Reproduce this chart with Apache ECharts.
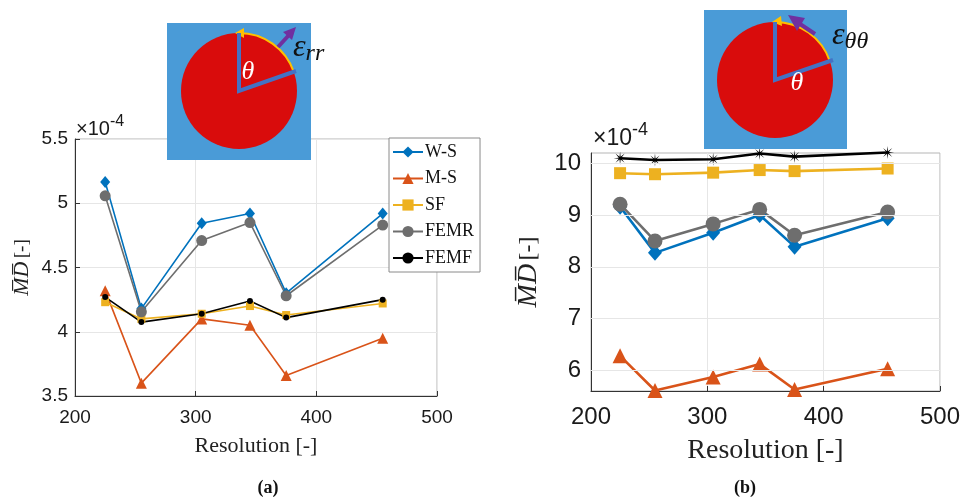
<!DOCTYPE html>
<html><head><meta charset="utf-8">
<script src="https://cdn.jsdelivr.net/npm/echarts@6/dist/echarts.min.js"></script>
<style>html,body{margin:0;padding:0;background:#fff}#c{width:963px;height:500px}</style>
</head><body><div id="c"></div>
<script>
// ---- data (values in units of 1e-4) ----
const resolution = [225, 255, 305, 345, 375, 455];
const seriesNames = ['W-S', 'M-S', 'SF', 'FEMR', 'FEMF'];
const rrWS   = [5.165, 4.18, 4.845, 4.92, 4.30, 4.92];
const rrMS   = [4.32, 3.60, 4.10, 4.05, 3.66, 3.95];
const rrSF   = [4.23, 4.10, 4.14, 4.20, 4.13, 4.22];
const rrFEMR = [5.058, 4.155, 4.71, 4.85, 4.28, 4.83];
const rrFEMF = [4.27, 4.075, 4.14, 4.24, 4.11, 4.25];
const ttWS   = [9.16, 8.27, 8.66, 9.00, 8.39, 8.94];
const ttMS   = [6.28, 5.61, 5.87, 6.12, 5.63, 6.03];
const ttSF   = [9.81, 9.79, 9.82, 9.87, 9.85, 9.90];
const ttFEMR = [9.21, 8.50, 8.83, 9.11, 8.61, 9.06];
const ttFEMF = [10.10, 10.065, 10.08, 10.19, 10.13, 10.21];
const xTicks  = [200, 300, 400, 500];
const yTicksA = [3.5, 4, 4.5, 5, 5.5];
const yTicksB = [6, 7, 8, 9, 10];
const xTitle = 'Resolution [-]';
const yTitleMD = 'M\u0305D\u0305';
const panelLabels = ['(a)', '(b)'];

function asteriskPath() {
  const p = [];
  for (let k = 0; k < 16; k++) {
    const a = k * Math.PI / 8 - Math.PI / 2;
    const r = k % 2 ? 0.22 : 1;
    p.push((k ? 'L' : 'M') + (r * Math.cos(a)).toFixed(3) + ' ' + (r * Math.sin(a)).toFixed(3));
  }
  return 'path://' + p.join(' ') + 'Z';
}
const styles = {
  'W-S':  {color: '#0072BD', symA: 'diamond', symB: 'diamond', sA: [10, 12], sB: [14, 16]},
  'M-S':  {color: '#D95319', symA: 'triangle', symB: 'triangle', sA: 11, sB: 15},
  'SF':   {color: '#EDB120', symA: 'rect', symB: 'rect', sA: 8, sB: 12},
  'FEMR': {color: '#6E6E6E', symA: 'circle', symB: 'circle', sA: 11, sB: 15},
  'FEMF': {color: '#000000', symA: 'circle', symB: asteriskPath(), sA: 6, sB: 13}
};
const dataA = {'W-S': rrWS, 'M-S': rrMS, 'SF': rrSF, 'FEMR': rrFEMR, 'FEMF': rrFEMF};
const dataB = {'W-S': ttWS, 'M-S': ttMS, 'SF': ttSF, 'FEMR': ttFEMR, 'FEMF': ttFEMF};

function mk(name, arr, g) {
  const st = styles[name];
  return {
    name: name, type: 'line', xAxisIndex: g, yAxisIndex: g,
    data: resolution.map((x, i) => [x, arr[i]]),
    symbol: g ? st.symB : st.symA,
    symbolSize: g ? st.sB : st.sA,
    showAllSymbol: true, clip: false, z: 3,
    lineStyle: {color: st.color, width: g ? 2.6 : 1.6},
    itemStyle: {color: st.color, borderWidth: 0},
    emphasis: {disabled: true}
  };
}

const tickFont = 'Liberation Sans, Arial, sans-serif';
const serif = 'Liberation Serif, Times New Roman, serif';

function xAxisCfg(g, fs, nameFs, gap, nameGap) {
  return {
    type: 'value', gridIndex: g, min: xTicks[0], max: xTicks[xTicks.length - 1], interval: 100,
    axisLine: {show: true, onZero: false, lineStyle: {color: '#333', width: 1}},
    axisTick: {show: true, inside: true, length: 5, lineStyle: {color: '#333'}},
    axisLabel: {color: '#1a1a1a', fontSize: fs, fontFamily: tickFont, margin: gap},
    splitLine: {show: true, lineStyle: {color: '#e6e6e6', width: 1}},
    name: xTitle, nameLocation: 'middle', nameGap: nameGap,
    nameTextStyle: {color: '#222', fontSize: nameFs, fontFamily: serif}
  };
}
function yName(fs, fs2) {
  return {
    rich: {
      md: {fontSize: fs, fontFamily: serif, fontStyle: 'italic', color: '#222'},
      n: {fontSize: fs2, fontFamily: serif, color: '#222'}
    }
  };
}

const option = {
  animation: false,
  backgroundColor: '#fff',
  grid: [
    {left: 75, top: 139, width: 362, height: 257, show: true, borderColor: '#b5b5b5', borderWidth: 1, backgroundColor: 'transparent'},
    {left: 591, top: 153, width: 351, height: 238, show: true, borderColor: '#b5b5b5', borderWidth: 1, backgroundColor: 'transparent'}
  ],
  xAxis: [xAxisCfg(0, 19, 22, 12, 39), xAxisCfg(1, 24, 28, 14, 46)],
  yAxis: [
    {
      type: 'value', gridIndex: 0, min: yTicksA[0], max: yTicksA[yTicksA.length - 1], interval: 0.5,
      axisLine: {show: true, lineStyle: {color: '#333'}},
      axisTick: {show: true, inside: true, length: 5, lineStyle: {color: '#333'}},
      axisLabel: {color: '#1a1a1a', fontSize: 19, fontFamily: tickFont, margin: 7},
      splitLine: {show: true, lineStyle: {color: '#e6e6e6'}},
      name: '{md|' + yTitleMD + '} {n|[-]}', nameLocation: 'middle', nameGap: 42,
      nameTextStyle: yName(22, 19)
    },
    {
      type: 'value', gridIndex: 1, min: 5.6, max: 10.2,
      axisLine: {show: true, lineStyle: {color: '#333'}},
      axisTick: {show: true, inside: true, length: 5, customValues: yTicksB, lineStyle: {color: '#333'}},
      axisLabel: {color: '#1a1a1a', fontSize: 24, fontFamily: tickFont, margin: 10, customValues: yTicksB},
      splitLine: {show: false},
      name: '{md|' + yTitleMD + '} {n|[-]}', nameLocation: 'middle', nameGap: 48,
      nameTextStyle: yName(28, 24)
    }
  ],
  legend: {
    data: seriesNames, orient: 'vertical', left: 389, top: 138,
    backgroundColor: '#fff', borderColor: '#8a8a8a', borderWidth: 1,
    padding: [5, 6, 5, 3], itemGap: 8.5, itemWidth: 30, itemHeight: 14,
    textStyle: {fontFamily: serif, fontSize: 18, color: '#111', padding: [0, 0, 0, -3]},
    selectedMode: false, z: 10
  },
  series: [
    {
      type: 'line', xAxisIndex: 1, yAxisIndex: 1, data: [], z: 1, silent: true,
      markLine: {
        silent: true, symbol: 'none', label: {show: false},
        lineStyle: {color: '#e6e6e6', type: 'solid', width: 1},
        data: yTicksB.map(v => ({yAxis: v}))
      }
    }
  ].concat(seriesNames.map(n => mk(n, dataA[n], 0)))
   .concat(seriesNames.map(n => mk(n, dataB[n], 1))),
  graphic: [
    // inset (a)
    {type: 'rect', z: 20, shape: {x: 167, y: 23, width: 144, height: 137}, style: {fill: '#4A9BD7'}},
    {type: 'circle', z: 21, shape: {cx: 239, cy: 91, r: 58}, style: {fill: '#D90C0C'}},
    {type: 'arc', z: 22, shape: {cx: 239, cy: 91, r: 58, startAngle: -Math.PI / 2, endAngle: -0.34, clockwise: true}, style: {stroke: '#FFC000', lineWidth: 2, fill: null}},
    {type: 'polygon', z: 23, shape: {points: [[235, 33], [244, 28], [244, 38]]}, style: {fill: '#FFC000'}},
    {type: 'polyline', z: 23, shape: {points: [[239, 33], [239, 91], [296, 71]]}, style: {stroke: '#4472C4', lineWidth: 4, fill: null, lineJoin: 'miter'}},
    {type: 'line', z: 23, shape: {x1: 278, y1: 47, x2: 289, y2: 35}, style: {stroke: '#7030A0', lineWidth: 4}},
    {type: 'polygon', z: 23, shape: {points: [[296, 27], [283, 32], [292, 40]]}, style: {fill: '#7030A0'}},
    {type: 'text', z: 24, x: 248, y: 72, style: {text: '\u03b8', fill: '#fff', font: 'italic 26px ' + serif, align: 'center', verticalAlign: 'middle'}},
    {type: 'text', z: 24, x: 293, y: 48, style: {text: '{e|\u03b5}{s|rr}', align: 'left', verticalAlign: 'middle',
      rich: {e: {font: 'italic 32px ' + serif, fill: '#111'}, s: {font: 'italic 24px ' + serif, fill: '#111', padding: [12, 0, 0, 0]}}}},
    // inset (b)
    {type: 'rect', z: 20, shape: {x: 704, y: 10, width: 143, height: 139}, style: {fill: '#4A9BD7'}},
    {type: 'circle', z: 21, shape: {cx: 775, cy: 80, r: 58}, style: {fill: '#D90C0C'}},
    {type: 'arc', z: 22, shape: {cx: 775, cy: 80, r: 58, startAngle: -Math.PI / 2, endAngle: -0.33, clockwise: true}, style: {stroke: '#FFC000', lineWidth: 2, fill: null}},
    {type: 'polygon', z: 23, shape: {points: [[772, 22], [781, 16], [782, 26]]}, style: {fill: '#FFC000'}},
    {type: 'polyline', z: 23, shape: {points: [[775, 22], [775, 80], [833, 60]]}, style: {stroke: '#4472C4', lineWidth: 4, fill: null, lineJoin: 'miter'}},
    {type: 'line', z: 23, shape: {x1: 815, y1: 34, x2: 800, y2: 24}, style: {stroke: '#7030A0', lineWidth: 4}},
    {type: 'polygon', z: 23, shape: {points: [[788, 15], [805, 18], [797, 31]]}, style: {fill: '#7030A0'}},
    {type: 'text', z: 24, x: 797, y: 83, style: {text: '\u03b8', fill: '#fff', font: 'italic 26px ' + serif, align: 'center', verticalAlign: 'middle'}},
    {type: 'text', z: 24, x: 832, y: 36, style: {text: '{e|\u03b5}{s|\u03b8\u03b8}', align: 'left', verticalAlign: 'middle',
      rich: {e: {font: 'italic 32px ' + serif, fill: '#111'}, s: {font: 'italic 24px ' + serif, fill: '#111', padding: [12, 0, 0, 0]}}}},
    // exponent labels
    {type: 'text', z: 5, x: 76, y: 129, style: {text: '\u00d710{p|-4}', font: '20px ' + tickFont, fill: '#1a1a1a', align: 'left', verticalAlign: 'middle',
      rich: {p: {font: '16px ' + tickFont, fill: '#1a1a1a', padding: [0, 0, 15, 0]}}}},
    {type: 'text', z: 5, x: 593, y: 139, style: {text: '\u00d710{p|-4}', font: '23px ' + tickFont, fill: '#1a1a1a', align: 'left', verticalAlign: 'middle',
      rich: {p: {font: '18px ' + tickFont, fill: '#1a1a1a', padding: [0, 0, 18, 0]}}}},
    // panel labels
    {type: 'text', z: 5, x: 268, y: 488, style: {text: panelLabels[0], font: 'bold 18px ' + serif, fill: '#111', align: 'center', verticalAlign: 'middle'}},
    {type: 'text', z: 5, x: 745, y: 488, style: {text: panelLabels[1], font: 'bold 18px ' + serif, fill: '#111', align: 'center', verticalAlign: 'middle'}}
  ]
};
const chart = echarts.init(document.getElementById('c'), null, {renderer: 'canvas'});
chart.setOption(option);
</script></body></html>
